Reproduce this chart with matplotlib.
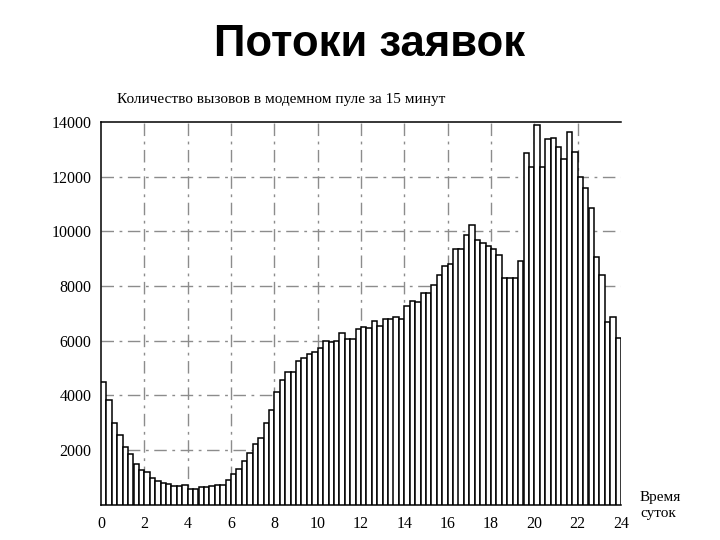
import numpy as np
import matplotlib
matplotlib.use("Agg")
import matplotlib.pyplot as plt

# 15-minute intervals over 24 hours
interval_minutes = 15
calls = [
    4480, 3830, 2980, 2550, 2100, 1840, 1490, 1270,
    1180, 970, 870, 800, 750, 670, 670, 710,
    590, 590, 640, 650, 700, 720, 720, 900,
    1120, 1300, 1590, 1880, 2220, 2440, 3000, 3460,
    4140, 4560, 4840, 4840, 5270, 5380, 5500, 5600,
    5750, 5990, 5940, 6000, 6270, 6060, 6060, 6420,
    6510, 6450, 6720, 6550, 6810, 6800, 6850, 6810,
    7280, 7450, 7400, 7730, 7730, 8050, 8390, 8720,
    8790, 9370, 9370, 9860, 10250, 9700, 9590, 9450,
    9340, 9120, 8280, 8280, 8300, 8910, 12880, 12340,
    13890, 12340, 13360, 13430, 13100, 12630, 13620, 12920,
    11990, 11570, 10870, 9070, 8400, 6690, 6870, 6100,
]
x_ticks = [0, 2, 4, 6, 8, 10, 12, 14, 16, 18, 20, 22, 24]
y_ticks = [2000, 4000, 6000, 8000, 10000, 12000, 14000]

title = "Потоки заявок"
ylabel = "Количество вызовов в модемном пуле за 15 минут"
xlabel = "Время\nсуток"

serif = ["Liberation Serif", "DejaVu Serif"]
sans = ["Liberation Sans", "DejaVu Sans"]

fig = plt.figure(figsize=(7.2, 5.4), dpi=100)
ax = fig.add_axes([101/720, 1-504.7/540, 520/720, (504.7-122)/540])

width_h = interval_minutes / 60.0
starts = np.arange(len(calls)) * width_h
ax.bar(starts, calls, width=width_h, align="edge", color="white",
       edgecolor="black", linewidth=1.1, zorder=3)

ax.set_xlim(0, 24)
ax.set_ylim(0, 14000)

# grid
for yv in y_ticks[:-1]:
    ax.axhline(yv, color="#8c8c8c", lw=1.0, ls=(0, (9, 4, 2, 4)), zorder=1)
for xv in x_ticks[1:-1]:
    ax.axvline(xv, color="#8c8c8c", lw=1.0, ls=(0, (9, 4, 2, 4)), zorder=1)

ax.set_xticks(x_ticks)
ax.set_xticklabels([str(t) for t in x_ticks], family=serif, fontsize=11.5)
ax.set_yticks(y_ticks)
ax.set_yticklabels([str(t) for t in y_ticks], family=serif, fontsize=11.5)
ax.tick_params(length=0, pad=8)
ax.tick_params(axis="y", pad=7)

for s in ["right"]:
    ax.spines[s].set_visible(False)
for s in ["left", "top", "bottom"]:
    ax.spines[s].set_linewidth(1.1)

fig.text(370/720, 1-45/540, title, ha="center", va="center",
         family=sans, fontsize=31.5, fontweight="bold")
fig.text(117/720, 1-99/540, ylabel, ha="left", va="center",
         family=serif, fontsize=11)
fig.text(640/720, 1-506/540, xlabel, ha="left", va="center",
         family=serif, fontsize=11, linespacing=1.3)

fig.savefig("out.png", dpi=100)
